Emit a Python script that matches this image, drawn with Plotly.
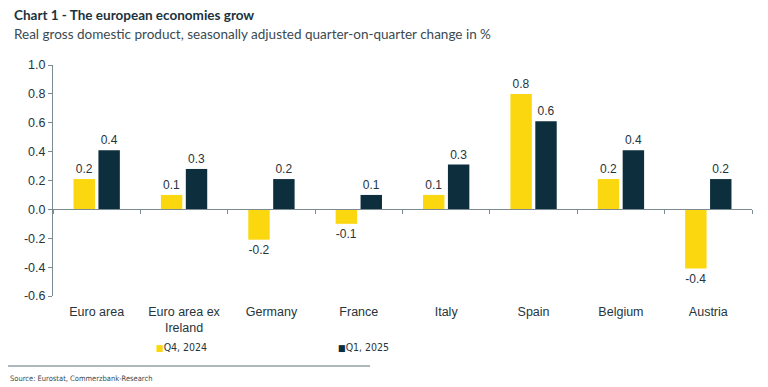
import plotly.graph_objects as go

categories = ["Euro area", "Euro area ex<br>Ireland", "Germany", "France", "Italy", "Spain", "Belgium", "Austria"]
q4_2024 = [0.21, 0.10, -0.21, -0.10, 0.10, 0.80, 0.21, -0.41]
q1_2025 = [0.41, 0.28, 0.21, 0.10, 0.31, 0.61, 0.41, 0.21]
series_names = ["Q4, 2024", "Q1, 2025"]
ytick_vals = [-0.6, -0.4, -0.2, 0.0, 0.2, 0.4, 0.6, 0.8, 1.0]
ytick_text = ["-0.6", "-0.4", "-0.2", "0.0", "0.2", "0.4", "0.6", "0.8", "1.0"]

YELLOW = "#FAD70E"
NAVY = "#0C2E3D"
TXT = "#26343C"
AXIS = "#7C8A91"
LABEL_FONT = "Liberation Sans, Arial, sans-serif"
NARROW = "Liberation Sans Narrow, DejaVu Sans Condensed, Arial Narrow, Liberation Sans, sans-serif"


def fmt(v):
    return f"{v:.1f}".replace("\u2212", "-")


fig = go.Figure()
for name, vals, col in [(series_names[0], q4_2024, YELLOW), (series_names[1], q1_2025, NAVY)]:
    fig.add_trace(go.Bar(
        x=categories, y=vals, name=name,
        marker=dict(color=col, line=dict(width=0)),
        text=[fmt(v) for v in vals], textposition="outside",
        textfont=dict(family=LABEL_FONT, size=12, color=TXT),
        cliponaxis=False, showlegend=False,
    ))

# helper trace so the zero-line category axis (with boundary ticks) is drawn
fig.add_trace(go.Scatter(x=categories, y=[0] * len(categories), xaxis="x2",
                         mode="none", showlegend=False, hoverinfo="skip"))

ymin, ymax = ytick_vals[0], ytick_vals[-1]
zero_pos = (0 - ymin) / (ymax - ymin)

fig.update_layout(
    width=768, height=387,
    margin=dict(l=53, r=16, t=65, b=91),
    paper_bgcolor="white", plot_bgcolor="white",
    barmode="group", bargap=0.43, bargroupgap=0.14,
    xaxis=dict(showline=False, ticks="", showgrid=False, zeroline=False,
               ticklabelstandoff=6,
               tickfont=dict(family=LABEL_FONT, size=12.5, color=TXT)),
    xaxis2=dict(overlaying="x", matches="x", anchor="free", position=zero_pos,
                showline=True, linecolor=AXIS, linewidth=1,
                ticks="outside", tickson="boundaries", ticklen=4, tickcolor=AXIS,
                showticklabels=False, showgrid=False, zeroline=False),
    yaxis=dict(range=[ymin, ymax], tickvals=ytick_vals, ticktext=ytick_text,
               showline=True, linecolor=AXIS, linewidth=1,
               ticks="outside", ticklen=4, tickcolor=AXIS,
               showgrid=False, zeroline=False,
               tickfont=dict(family=LABEL_FONT, size=12.5, color=TXT)),
)

W, H = 699.0, 231.0
def px_x(px):
    return (px - 53) / W
def px_y(py):
    return (296 - py) / H

fig.add_annotation(text="<b>Chart 1 - The european economies grow</b>",
                   xref="paper", yref="paper", x=px_x(12), y=px_y(15),
                   xanchor="left", yanchor="middle", showarrow=False,
                   font=dict(family="Lato, Open Sans, sans-serif", size=13.5, color="#1B3340"))
fig.add_annotation(text="Real gross domestic product, seasonally adjusted quarter-on-quarter change in %",
                   xref="paper", yref="paper", x=px_x(12), y=px_y(34),
                   xanchor="left", yanchor="middle", showarrow=False,
                   font=dict(family="Lato, Open Sans, sans-serif", size=13.5, color="#3A4A52"))

for name, col, xpx in [(series_names[0], YELLOW, 154), (series_names[1], NAVY, 336)]:
    fig.add_annotation(
        text=f"<span style='color:{col};font-size:9px'>■</span>{name}",
        xref="paper", yref="paper", x=px_x(xpx), y=px_y(347),
        xanchor="left", yanchor="middle", showarrow=False,
        font=dict(family=NARROW, size=10.5, color=TXT))

fig.add_shape(type="line", xref="paper", yref="paper",
              x0=px_x(8), x1=px_x(370), y0=px_y(366), y1=px_y(366),
              line=dict(color="#5E717B", width=1))
fig.add_annotation(text="Source: Eurostat, Commerzbank-Research",
                   xref="paper", yref="paper", x=px_x(8), y=px_y(378),
                   xanchor="left", yanchor="middle", showarrow=False,
                   font=dict(family=NARROW, size=7.5, color="#3A4A52"))

fig.write_html("out.html", config={"displayModeBar": False},
               post_script="document.body.style.margin='0';")
